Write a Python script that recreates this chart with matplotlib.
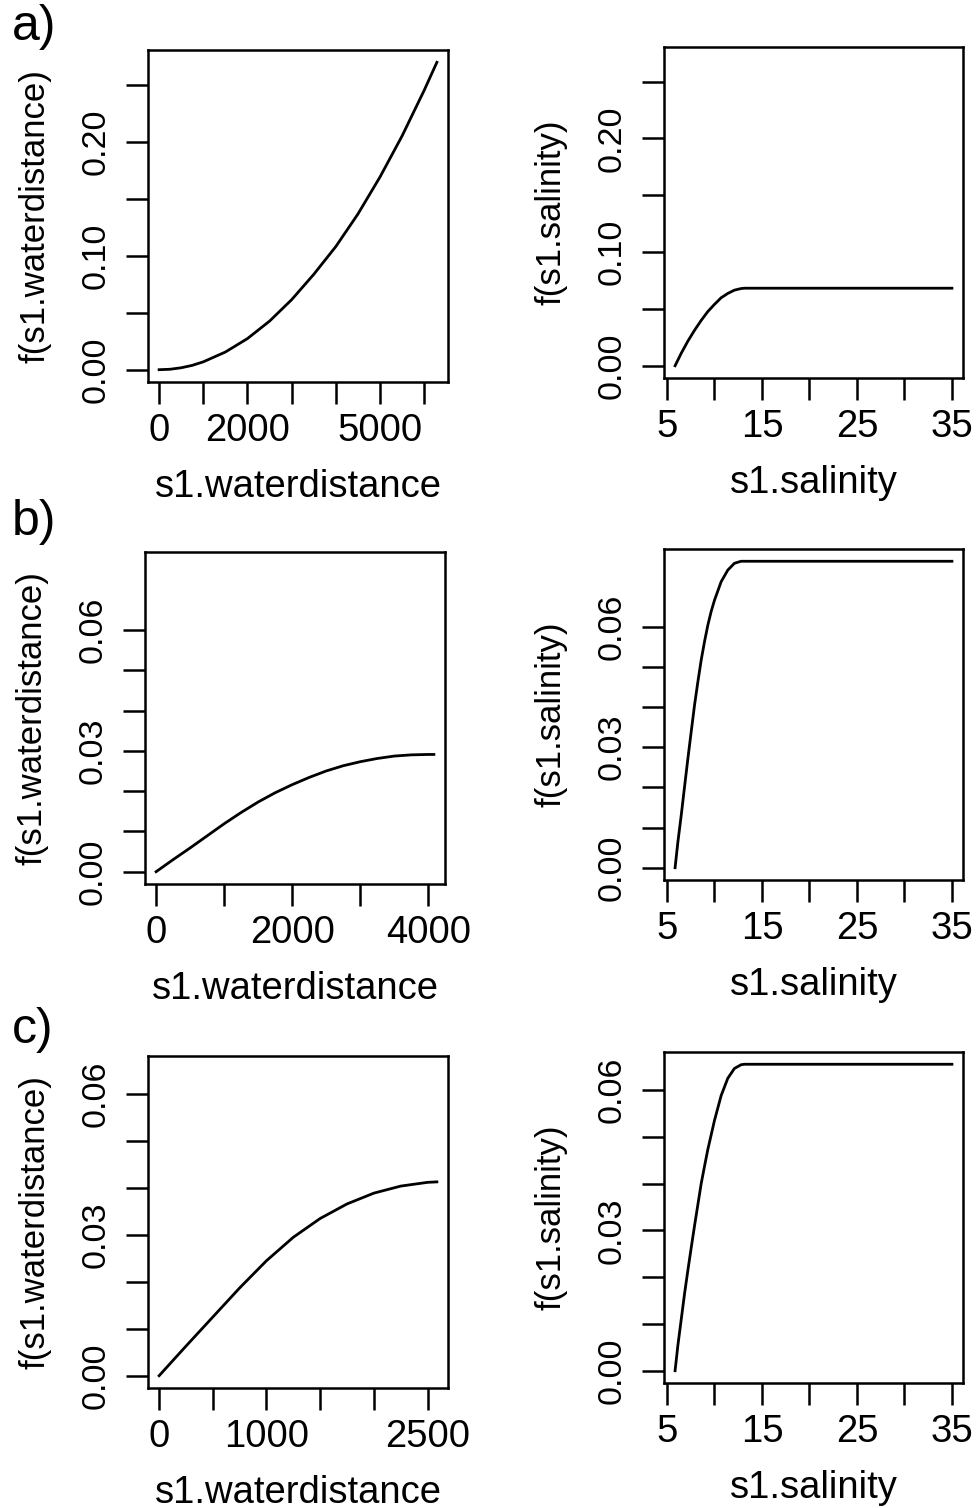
import numpy as np
import matplotlib.pyplot as plt

plt.rcParams['font.family'] = ['Liberation Sans', 'DejaVu Sans']

# a) fitted splines
wd_a_x = [0, 250, 500, 750, 1000, 1500, 2000, 2500, 3000, 3500, 4000, 4500, 5000, 5500, 6000, 6288]
wd_a_y = [0, 0.0004, 0.0017, 0.0038, 0.0069, 0.0155, 0.0273, 0.0426, 0.0614, 0.0836, 0.108, 0.1365, 0.169, 0.205, 0.245, 0.2696]
sal_a_x = [5.85, 6.5, 7.2, 7.9, 8.6, 9.3, 10.0, 10.7, 11.4, 12.1, 12.8, 13.15, 35.0]
sal_a_y = [0, 0.011, 0.0217, 0.0312, 0.0399, 0.0477, 0.054, 0.0598, 0.0636, 0.0665, 0.0679, 0.0682, 0.0682]

# b)
wd_b_x = [0, 250, 500, 750, 1000, 1250, 1500, 1750, 2000, 2250, 2500, 2750, 3000, 3250, 3500, 3750, 4000, 4083]
wd_b_y = [0, 0.0030, 0.0059, 0.0089, 0.0119, 0.0147, 0.0173, 0.0196, 0.0216, 0.0234, 0.0250, 0.0263, 0.0273, 0.0281, 0.0287, 0.0290, 0.0291, 0.0291]
sal_b_x = [5.85, 6.15, 6.5, 6.85, 7.2, 7.55, 7.9, 8.25, 8.6, 8.95, 9.3, 9.65, 10.0, 10.7, 11.4, 12.1, 12.8, 13.15, 35.0]
sal_b_y = [0, 0.0065, 0.0131, 0.0202, 0.0272, 0.0339, 0.0405, 0.0463, 0.0517, 0.0563, 0.0604, 0.0638, 0.0666, 0.0712, 0.0741, 0.0758, 0.0763, 0.0763, 0.0763]

# c)
wd_c_x = [0, 250, 500, 750, 1000, 1250, 1500, 1750, 2000, 2250, 2500, 2587]
wd_c_y = [0, 0.0063, 0.0125, 0.0187, 0.0245, 0.0295, 0.0335, 0.0366, 0.0389, 0.0404, 0.0412, 0.0413]
sal_c_x = [5.85, 6.15, 6.5, 6.85, 7.2, 7.55, 7.9, 8.25, 8.6, 8.95, 9.3, 10.0, 10.7, 11.4, 12.1, 12.8, 13.15, 35.0]
sal_c_y = [0, 0.0055, 0.011, 0.0165, 0.0215, 0.0263, 0.031, 0.0355, 0.040, 0.0437, 0.0473, 0.0535, 0.0588, 0.0625, 0.0646, 0.0654, 0.0655, 0.0655]

row_ymax = [0.2696, 0.0763, 0.0655]
row_letters = ['a)', 'b)', 'c)']

wd_ticks = [np.arange(0, 6001, 1000), np.arange(0, 4001, 1000), np.arange(0, 2501, 500)]
wd_labels = [['0', '', '2000', '', '', '5000', ''],
             ['0', '', '2000', '', '4000'],
             ['0', '', '1000', '', '', '2500']]
sal_ticks = np.arange(5, 36, 5)
sal_labels = ['5', '', '15', '', '25', '', '35']
y_ticks = [np.arange(0, 0.26, 0.05), np.arange(0, 0.061, 0.01), np.arange(0, 0.061, 0.01)]
y_labels = [['0.00', '', '0.10', '', '0.20', ''],
            ['0.00', '', '', '0.03', '', '', '0.06'],
            ['0.00', '', '', '0.03', '', '', '0.06']]

W, H = 977, 1508
fig = plt.figure(figsize=(W / 100, H / 100), dpi=100)

# axes boxes in pixels: left, top, right, bottom
boxes = [[(148, 50, 448, 382), (664, 47, 963, 378)],
         [(145, 552, 445, 884), (664, 549, 963, 880)],
         [(148, 1056, 448, 1388), (664, 1052, 963, 1383)]]
letter_y = [40, 535, 1043]

curves = [[(wd_a_x, wd_a_y), (sal_a_x, sal_a_y)],
          [(wd_b_x, wd_b_y), (sal_b_x, sal_b_y)],
          [(wd_c_x, wd_c_y), (sal_c_x, sal_c_y)]]


def r_lim(lo, hi):
    d = (hi - lo) * 0.04
    return lo - d, hi + d


for i in range(3):
    for j in range(2):
        l, t, r, b = boxes[i][j]
        ax = fig.add_axes([l / W, 1 - b / H, (r - l) / W, (b - t) / H])
        xs, ys = curves[i][j]
        ax.plot(xs, ys, color='black', lw=2.0, solid_joinstyle='round')
        ax.set_xlim(r_lim(min(xs), max(xs)))
        ax.set_ylim(r_lim(0, row_ymax[i]))
        if j == 0:
            ax.set_xticks(wd_ticks[i])
            ax.set_xticklabels(wd_labels[i])
            ax.set_xlabel('s1.waterdistance', fontsize=27.5, labelpad=14.5)
            ax.set_ylabel('f(s1.waterdistance)', fontsize=25, labelpad=21)
        else:
            ax.set_xticks(sal_ticks)
            ax.set_xticklabels(sal_labels)
            ax.set_xlabel('s1.salinity', fontsize=27.5, labelpad=14.5)
            ax.set_ylabel('f(s1.salinity)', fontsize=25, labelpad=21)
        ax.set_yticks(y_ticks[i])
        ax.set_yticklabels(y_labels[i], rotation=90, va='center')
        ax.tick_params(axis='x', length=16, width=1.8, pad=6, labelsize=27.5)
        ax.tick_params(axis='y', length=16, width=1.8, pad=10.5, labelsize=24.5)
        for s in ax.spines.values():
            s.set_linewidth(1.8)
    fig.text(12 / W, 1 - letter_y[i] / H, row_letters[i], fontsize=36, ha='left', va='baseline')

fig.savefig('out.png', dpi=100)
